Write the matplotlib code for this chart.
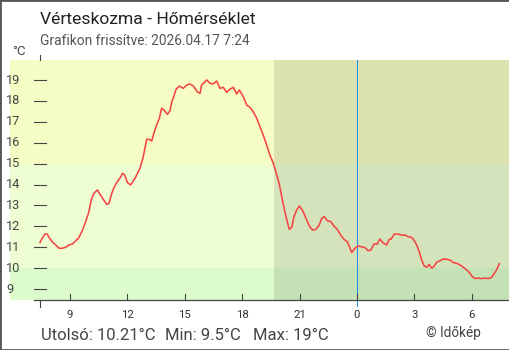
import matplotlib
matplotlib.use("Agg")
import matplotlib.pyplot as plt
from matplotlib.patches import Rectangle

# Temperature series: hours since midnight of the first day, and °C
hours = [7.43, 7.55, 7.69, 7.81, 7.90, 8.07, 8.25, 8.43, 8.60, 8.78, 8.95, 9.12, 9.30, 9.47,
         9.64, 9.82, 9.99, 10.11, 10.25, 10.43, 10.57, 10.74, 10.92, 11.04, 11.16, 11.26,
         11.44, 11.61, 11.75, 11.86, 12.00, 12.17, 12.31, 12.40, 12.66, 12.83, 13.01, 13.15,
         13.27, 13.41, 13.53, 13.67, 13.79, 13.91, 14.09, 14.23, 14.32, 14.44, 14.54, 14.71,
         14.92, 15.10, 15.27, 15.45, 15.65, 15.80, 15.88, 16.15, 16.32, 16.49, 16.67, 16.84,
         17.01, 17.19, 17.36, 17.54, 17.71, 17.85, 18.06, 18.24, 18.41, 18.58, 18.76, 18.93,
         19.10, 19.28, 19.45, 19.63, 19.81, 19.94, 20.12, 20.29, 20.46, 20.59, 20.71, 20.85,
         20.99, 21.16, 21.34, 21.51, 21.69, 21.86, 22.03, 22.16, 22.29, 22.45, 22.63, 22.80,
         22.97, 23.15, 23.32, 23.50, 23.73, 23.90, 24.07, 24.25, 24.42, 24.59, 24.73, 24.89,
         25.06, 25.20, 25.38, 25.55, 25.69, 25.78, 25.95, 26.16, 26.34, 26.51, 26.68, 26.86,
         27.00, 27.12, 27.26, 27.38, 27.52, 27.65, 27.77, 27.91, 28.04, 28.17, 28.34, 28.51,
         28.69, 28.86, 29.04, 29.21, 29.39, 29.56, 29.74, 29.91, 30.03, 30.17, 30.34, 30.52,
         30.69, 30.87, 31.04, 31.18, 31.30, 31.44]
temps = [11.22, 11.43, 11.63, 11.63, 11.47, 11.26, 11.11, 10.95, 10.95, 11.00, 11.11, 11.15,
         11.30, 11.47, 11.79, 12.22, 12.70, 13.26, 13.58, 13.74, 13.53, 13.29, 13.05, 13.10,
         13.50, 13.77, 14.09, 14.30, 14.54, 14.45, 14.09, 13.98, 14.18, 14.30, 14.78, 15.33,
         16.16, 16.16, 16.08, 16.53, 16.85, 17.17, 17.65, 17.56, 17.36, 17.53, 17.96, 18.25,
         18.55, 18.71, 18.60, 18.76, 18.81, 18.71, 18.44, 18.36, 18.76, 19.00, 18.84, 18.81,
         18.95, 18.60, 18.65, 18.41, 18.56, 18.65, 18.33, 18.52, 18.20, 17.80, 17.69, 17.48,
         17.17, 16.77, 16.37, 15.89, 15.41, 15.01, 14.45, 14.02, 13.18, 12.46, 11.86, 11.95,
         12.46, 12.78, 12.97, 12.75, 12.38, 12.01, 11.82, 11.86, 12.06, 12.38, 12.46, 12.27,
         12.22, 12.01, 11.86, 11.58, 11.38, 11.26, 10.74, 10.95, 11.06, 11.02, 10.98, 10.83,
         10.87, 11.15, 11.15, 11.39, 11.19, 11.11, 11.38, 11.38, 11.63, 11.63, 11.58, 11.58,
         11.50, 11.47, 11.31, 11.11, 10.78, 10.39, 10.10, 10.04, 10.18, 9.99, 10.10, 10.28,
         10.35, 10.44, 10.42, 10.39, 10.26, 10.23, 10.15, 10.04, 9.91, 9.75, 9.59, 9.50,
         9.52, 9.50, 9.52, 9.50, 9.55, 9.75, 9.91, 10.21]

x_ticks = [9, 12, 15, 18, 21, 24, 27, 30]
x_tick_labels = ["9", "12", "15", "18", "21", "0", "3", "6"]
y_ticks = [9, 10, 11, 12, 13, 14, 15, 16, 17, 18, 19]

start_hour = 7.43
sunset_hour = 19.66
midnight_hour = 24.0

title = "Vérteskozma - Hőmérséklet"
subtitle = "Grafikon frissítve: 2026.04.17 7:24"
last_text = "Utolsó: 10.21°C"
min_text = "Min: 9.5°C"
max_text = "Max: 19°C"
credit = "© Időkép"

FONT = ["Roboto", "DejaVu Sans"]
plt.rcParams["font.family"] = FONT

W, H = 510, 350
fig = plt.figure(figsize=(W / 100, H / 100), dpi=100)
fig.patch.set_facecolor("white")


def fx(px):
    return px / W


def fy(py):
    return 1 - py / H


# plot region in pixels: x 10..509, y 60..300
X0, X1 = 5.864, 31.948
Y0, Y1 = 8.474, 19.957
PX_H = 19.13   # pixels per hour
PX_T = 20.9    # pixels per degree
ax = fig.add_axes([fx(10), fy(300), fx(509) - fx(10), fy(60) - fy(300)])
ax.set_xlim(X0, X1)
ax.set_ylim(Y0, Y1)
ax.axis("off")

# temperature bands
ax.axhspan(15, 25, color="#f5fdc4", lw=0, zorder=0)
ax.axhspan(10, 15, color="#eefdd2", lw=0, zorder=0)
ax.axhspan(0, 10, color="#dcfccb", lw=0, zorder=0)
# night shading after sunset
ax.axvspan(sunset_hour, 40, color="black", alpha=0.10, lw=0, zorder=1)

# midnight marker
ax.plot([midnight_hour, midnight_hour], [Y0 - 6 / PX_T, Y1], color="#1e8fe8",
        lw=0.75, clip_on=False, snap=True, zorder=3)

# y ticks and labels
for v in y_ticks:
    ax.plot([X0 + 24 / PX_H, X0 + 36 / PX_H], [v, v], color="#444444", lw=0.8,
            clip_on=False, snap=True, zorder=2)
    ax.text(X0 - 4 / PX_H, v, str(v), fontsize=9.2, color="#444444", ha="left",
            va="center", clip_on=False, zorder=4)

# x axis line and ticks
ax.plot([X0 + 24 / PX_H, X1], [Y0, Y0], color="#444444", lw=0.9, clip_on=False,
        snap=True, zorder=3)
for t, lab in zip(x_ticks, x_tick_labels):
    ax.plot([t, t], [Y0, Y0 + 6 / PX_T], color="#444444", lw=0.8, clip_on=False,
            snap=True, zorder=3)
    ax.text(t, Y0 - 15 / PX_T, lab, fontsize=8.2, color="#333333", ha="center",
            va="center", clip_on=False)
ax.plot([start_hour, start_hour], [Y0, Y0 - 7 / PX_T], color="#444444", lw=0.8,
        clip_on=False, snap=True, zorder=3)
ax.plot([start_hour, start_hour], [Y1, Y1 + 5 / PX_T], color="#444444", lw=0.8,
        clip_on=False, snap=True, zorder=3)

# temperature line
ax.plot(hours, temps, color="#f44444", lw=1.15, zorder=5)

# header
fig.text(fx(40), fy(24), title, fontsize=12.6, color="#222222", ha="left", va="baseline")
fig.text(fx(40), fy(45), subtitle, fontsize=9.9, color="#555555", ha="left", va="baseline")
fig.text(fx(12), fy(55), "°C", fontsize=9.5, color="#444444", ha="left", va="baseline")

# footer
fig.text(fx(41), fy(340), last_text, fontsize=12, color="#444444", ha="left", va="baseline")
fig.text(fx(165), fy(340), min_text, fontsize=12, color="#444444", ha="left", va="baseline")
fig.text(fx(253), fy(340), max_text, fontsize=12, color="#444444", ha="left", va="baseline")
fig.text(fx(426), fy(337), credit, fontsize=9.8, color="#444444", ha="left", va="baseline")

# frame around the image
fig.patches.append(Rectangle((0, 0), 1, 1, transform=fig.transFigure, fill=False,
                             ec="#555555", lw=2, zorder=10))

fig.savefig("out.png", dpi=100)
